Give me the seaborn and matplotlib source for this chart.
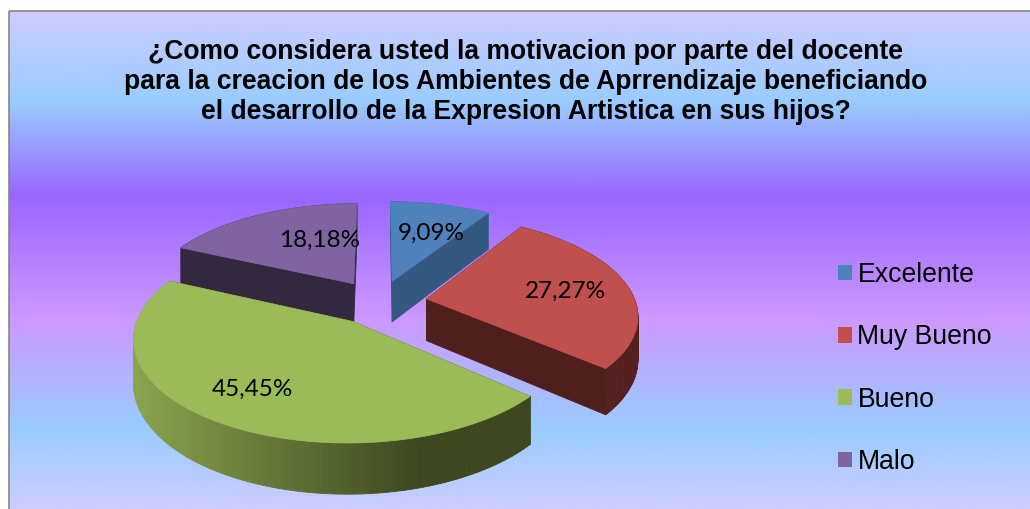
import numpy as np
import matplotlib
matplotlib.use('Agg')
import matplotlib.pyplot as plt
import seaborn as sns
from matplotlib.colors import LinearSegmentedColormap, to_rgb
from matplotlib.patches import Patch, Polygon, Rectangle

title = ('¿Como considera usted la motivacion por parte del docente\n'
         'para la creacion de los Ambientes de Aprrendizaje beneficiando\n'
         'el desarrollo de la Expresion Artistica en sus hijos?')
categories = ['Excelente', 'Muy Bueno', 'Bueno', 'Malo']
values = [9.09, 27.27, 45.45, 18.18]
value_labels = ['9,09%', '27,27%', '45,45%', '18,18%']

face_colors = ['#4f81bd', '#c0504d', '#9bbb59', '#8064a2']
wall_light = ['#4a6f9c', '#54211f', '#8ba44e', '#4a3a5e']
wall_dark = ['#345880', '#4f1f1e', '#3e4820', '#33283f']
bg_colors = ['#ccccff', '#99ccff', '#9966ff', '#cc99ff', '#99ccff', '#ccccff']
bg_stops = [0.0, 0.18, 0.37, 0.62, 0.84, 1.0]

# projection of the tilted pie, in pixels
cx, cy = 379, 302
rx, ry = 209, 97
tilt = 0.15
depth = 42
explode = 0.23
label_r = [0.63, 0.695, 0.71, 0.56]
label_turn = [4, 0, 2, 13.5]

sns.set_theme(style='white')
plt.rcParams['font.family'] = ['Liberation Sans', 'DejaVu Sans']


def project(u, v):
    s = 1 / (1 - tilt * v)
    return cx + rx * u * s, cy + ry * v * s, depth * s


def unit(theta):
    return np.sin(np.radians(theta)), -np.cos(np.radians(theta))


fig = plt.figure(figsize=(10.30, 5.09), dpi=100)
ax = fig.add_axes([0, 0, 1, 1])

cmap = LinearSegmentedColormap.from_list('bg', list(zip(bg_stops, bg_colors)))
ax.imshow(np.linspace(0, 1, 400).reshape(-1, 1), cmap=cmap, aspect='auto',
          extent=(9, 1030, 509, 11), zorder=0)
ax.add_patch(Rectangle((9, 11), 1030, 509, fill=False, ec='#868686', lw=1.2, zorder=1))
ax.set_xlim(0, 1030)
ax.set_ylim(509, 0)
ax.axis('off')

total = sum(values)
edges = np.cumsum([0] + values) / total * 360

# back slices first so that the big one ends up in front
for i in [3, 0, 1, 2]:
    start, end = edges[i], edges[i + 1]
    mid = (start + end) / 2
    du, dv = unit(mid)
    ou, ov = du * explode, dv * explode
    thetas = np.linspace(start, end, 120)
    us, vs = unit(thetas)
    xs, ys, ds = project(ou + us, ov + vs)
    ax0, ay0, ad0 = project(ou, ov)

    # outer wall, shaded along the arc
    light, dark = np.array(to_rgb(wall_light[i])), np.array(to_rgb(wall_dark[i]))
    for j in range(len(xs) - 1):
        t = np.clip((xs[j] - xs.min()) / (0.72 * (xs.max() - xs.min()) + 1e-6), 0, 1)
        if i != 2:
            t = 1 - t
        col = light + (dark - light) * t
        quad = [(xs[j], ys[j]), (xs[j + 1], ys[j + 1]),
                (xs[j + 1], ys[j + 1] + ds[j + 1]), (xs[j], ys[j] + ds[j])]
        ax.add_patch(Polygon(quad, fc=col, ec=col, lw=0.6, zorder=2))

    # radial walls
    for k in (0, -1):
        wall = [(ax0, ay0), (xs[k], ys[k]), (xs[k], ys[k] + ds[k]), (ax0, ay0 + ad0)]
        ax.add_patch(Polygon(wall, fc=wall_dark[i], ec=wall_dark[i], lw=0.5, zorder=2))

    # top face
    ax.add_patch(Polygon(np.column_stack([np.r_[ax0, xs], np.r_[ay0, ys]]),
                         fc=face_colors[i], ec=face_colors[i], lw=0.5, zorder=2))

    lu, lv = unit(mid + label_turn[i])
    lx, ly, _ = project(ou + lu * label_r[i], ov + lv * label_r[i])
    ax.text(lx - 1, ly + 2, value_labels[i], family='Lato', fontsize=17.5, color='black',
            ha='center', va='center', zorder=5)

ax.text(526, 82, title, ha='center', va='center', fontsize=19.1, fontweight='bold',
        color='black', linespacing=1.18, zorder=5)

handles = [Patch(fc=c, ec='none') for c in face_colors]
ax.legend(handles, categories, loc='center left', bbox_to_anchor=(0.7905, 0.276),
          frameon=False, fontsize=19.2, handlelength=0.52, handleheight=0.52,
          handletextpad=0.2, labelspacing=1.36, labelcolor='black')

fig.savefig('out.png', dpi=100, facecolor='white')
